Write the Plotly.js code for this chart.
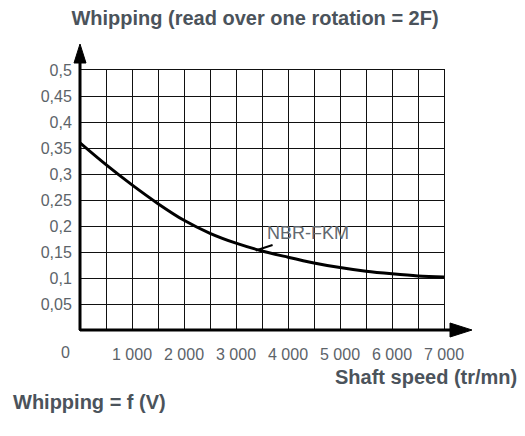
<!DOCTYPE html>
<html>
<head>
<meta charset="utf-8">
<script src="https://cdn.plot.ly/plotly-3.0.1.min.js"></script>
<style>html,body{margin:0;padding:0;background:#fff;}</style>
</head>
<body>
<div id="chart" style="width:525px;height:436px;"></div>
<script>
// Data
const speed = [0, 500, 1000, 1500, 2000, 2500, 3000, 3500, 4000, 4500, 5000, 5500, 6000, 6500, 7000];
const whipping = [0.36, 0.318, 0.279, 0.243, 0.211, 0.186, 0.167, 0.152, 0.14, 0.129, 0.12, 0.113, 0.108, 0.104, 0.102];
const seriesName = 'NBR-FKM';

const xTickVals = [0, 500, 1000, 1500, 2000, 2500, 3000, 3500, 4000, 4500, 5000, 5500, 6000, 6500, 7000];
const xTickText = ['', '', '1 000', '', '2 000', '', '3 000', '', '4 000', '', '5 000', '', '6 000', '', '7 000'];
const yTickVals = [0, 0.05, 0.1, 0.15, 0.2, 0.25, 0.3, 0.35, 0.4, 0.45, 0.5];
const yTickText = ['', '0,05', '0,1', '0,15', '0,2', '0,25', '0,3', '0,35', '0,4', '0,45', '0,5'];

const titleText = 'Whipping (read over one rotation = 2F)';
const xTitleText = 'Shaft speed (tr/mn)';
const footerText = 'Whipping = f (V)';
const originLabel = '0';

const FONT = 'Liberation Sans, Arial, sans-serif';
const titleColor = '#4b535b';
const tickColor = '#5c6369';

const trace = {
  x: speed,
  y: whipping,
  type: 'scatter',
  mode: 'lines',
  name: seriesName,
  line: {color: '#000', width: 3, shape: 'spline', smoothing: 1},
  hoverinfo: 'skip'
};

const W = 364, H = 260;
const layout = {
  width: 525,
  height: 436,
  margin: {l: 80, r: 81, t: 70, b: 106},
  paper_bgcolor: '#fff',
  plot_bgcolor: '#fff',
  showlegend: false,
  font: {family: FONT, color: tickColor, size: 16},
  title: {
    text: '<b>' + titleText + '</b>',
    font: {family: FONT, size: 20, color: titleColor},
    xref: 'container', x: 255 / 525, xanchor: 'center',
    yref: 'container', y: 1 - 18 / 436, yanchor: 'middle'
  },
  xaxis: {
    range: [0, 7000],
    tickvals: xTickVals,
    ticktext: xTickText,
    ticks: '',
    showgrid: true,
    gridcolor: '#111',
    gridwidth: 1,
    zeroline: false,
    showline: true,
    mirror: true,
    linecolor: '#111',
    linewidth: 1,
    tickfont: {family: FONT, size: 16, color: tickColor},
    ticklabelstandoff: 10,
    fixedrange: true
  },
  yaxis: {
    range: [0, 0.5],
    tickvals: yTickVals,
    ticktext: yTickText,
    ticks: '',
    showgrid: true,
    gridcolor: '#111',
    gridwidth: 1,
    zeroline: false,
    showline: true,
    mirror: true,
    linecolor: '#111',
    linewidth: 1,
    tickfont: {family: FONT, size: 16, color: tickColor},
    ticklabelstandoff: 4,
    fixedrange: true
  },
  shapes: [
    // thick x axis with arrow
    {type: 'line', xref: 'paper', yref: 'paper', x0: 0, x1: (452 - 80) / W, y0: 0, y1: 0,
     line: {color: '#000', width: 3}},
    {type: 'path', xref: 'paper', yref: 'paper',
     path: 'M ' + ((450 - 80) / W) + ' ' + (7 / H) + ' L ' + ((472 - 80) / W) + ' 0 L ' + ((450 - 80) / W) + ' ' + (-7 / H) + ' Z',
     fillcolor: '#000', line: {color: '#000', width: 1}},
    // thick y axis with arrow
    {type: 'line', xref: 'paper', yref: 'paper', x0: 0, x1: 0, y0: 0, y1: (330 - 60) / H,
     line: {color: '#000', width: 3}},
    {type: 'path', xref: 'paper', yref: 'paper',
     path: 'M ' + (-6 / W) + ' ' + ((330 - 63) / H) + ' L 0 ' + ((330 - 44) / H) + ' L ' + (6 / W) + ' ' + ((330 - 63) / H) + ' Z',
     fillcolor: '#000', line: {color: '#000', width: 1}}
  ],
  annotations: [
    {text: seriesName, x: 3380, y: 0.153, xref: 'x', yref: 'y',
     showarrow: true, arrowhead: 0, arrowwidth: 2, arrowcolor: '#000',
     ax: 52, ay: -17, standoff: 0,
     font: {family: FONT, size: 18, color: '#626970'}},
    {text: originLabel, x: 0, y: 0, xref: 'x', yref: 'y', showarrow: false,
     xshift: -15, yshift: -22, font: {family: FONT, size: 16, color: tickColor}},
    {text: '<b>' + xTitleText + '</b>', xref: 'paper', yref: 'paper',
     x: (519 - 80) / W, xanchor: 'right', y: -(377 - 330) / H, yanchor: 'middle',
     showarrow: false, font: {family: FONT, size: 20, color: titleColor}},
    {text: '<b>' + footerText + '</b>', xref: 'paper', yref: 'paper',
     x: (11 - 80) / W, xanchor: 'left', y: -(402 - 330) / H, yanchor: 'middle',
     showarrow: false, font: {family: FONT, size: 20, color: titleColor}}
  ]
};

Plotly.newPlot('chart', [trace], layout, {displayModeBar: false, staticPlot: true});
</script>
</body>
</html>
